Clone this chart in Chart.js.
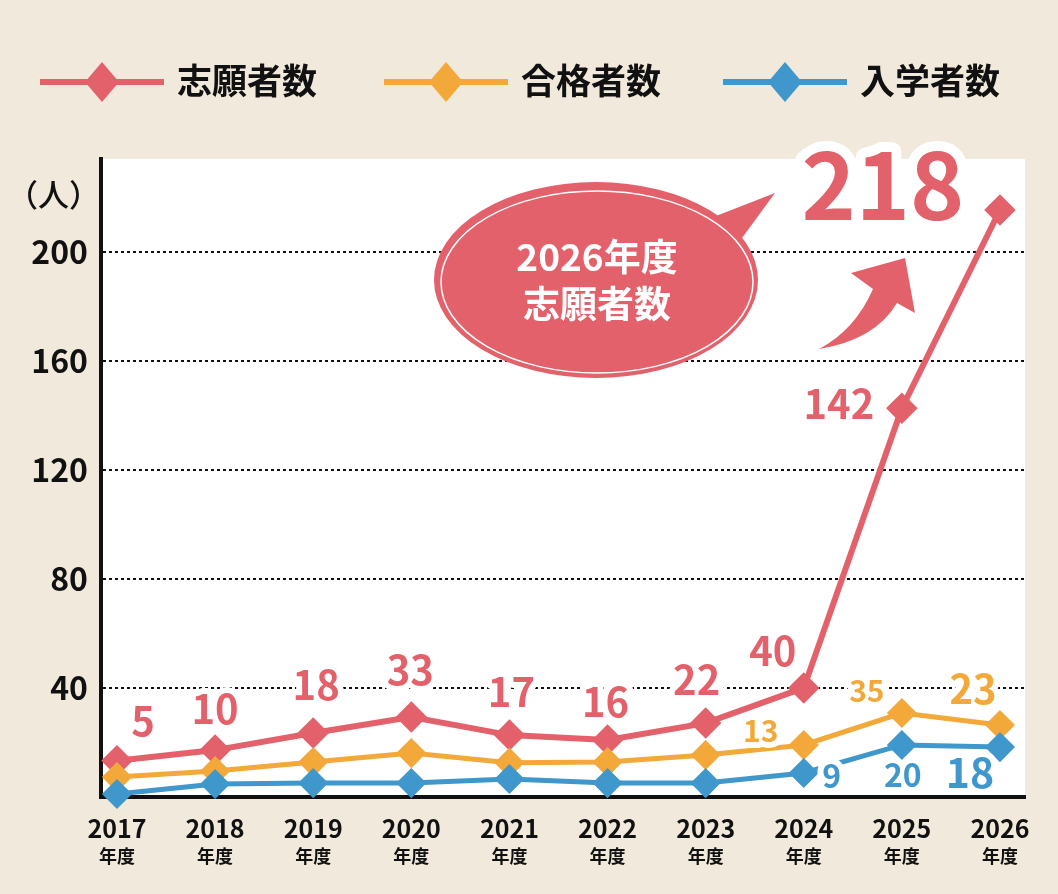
<!DOCTYPE html>
<html lang="ja">
<head>
<meta charset="utf-8">
<title>志願者数・合格者数・入学者数の推移</title>
<script src="https://cdn.jsdelivr.net/npm/chart.js@4.4.1/dist/chart.umd.min.js"></script>
<style>
  html, body { margin: 0; padding: 0; background: #f1e9db; }
  #wrap { position: relative; width: 1058px; height: 894px; }
</style>
</head>
<body>
<div id="wrap"><canvas id="chart"></canvas></div>
<script>
const years = [2017, 2018, 2019, 2020, 2021, 2022, 2023, 2024, 2025, 2026];
const seriesNames = ['志願者数', '合格者数', '入学者数'];

// figures printed beside the markers
const applicants = [5, 10, 18, 33, 17, 16, 22, 40, 142, 218];
const passed = [null, null, null, null, null, null, null, 13, 35, 23];
const enrolled = [null, null, null, null, null, null, null, 9, 20, 18];

// marker heights as they are drawn in the picture
const applicantsDrawn = [13.3, 17.2, 23.5, 29.3, 22.7, 20.9, 27.1, 40, 142.6, 215.3];
const passedDrawn = [7.3, 9.5, 12.8, 16.1, 12.6, 12.8, 15.4, 19.1, 30.8, 26.4];
const enrolledDrawn = [1.1, 4.8, 5.1, 5.1, 6.6, 5.1, 5.1, 8.8, 19.1, 18.3];

const yTicks = [40, 80, 120, 160, 200];
const unitLabel = '（人）';
const yearSuffix = '年度';
const calloutLines = ['2026年度', '志願者数'];

const RED = '#e3616a';
const ORANGE = '#f3a83a';
const BLUE = '#3f97cb';
const BEIGE = '#f1e9db';
const INK = '#111111';
const FONT = '"Noto Sans CJK JP", "Noto Sans", sans-serif';

const seriesColors = [RED, ORANGE, BLUE];
const seriesLabels = [applicants, passed, enrolled];

// label placement: [dx, dy, font size, halo] relative to the marker
const labelStyle = [
  [[26, -39, 40], [0, -41, 40], [3, -47, 40], [-1, -47, 40], [2, -43, 40],
   [-2, -37, 40], [-9, -43, 40], [-31, -36, 40], [-63, -4, 40], [-117, -23, 92, 20]],
  [null, null, null, null, null, null, null, [-43, -14, 30], [-35, -22, 30], [-27, -35, 40]],
  [null, null, null, null, null, null, null, [28, 3, 32], [1, 31, 32], [-30, 26, 41]]
];

function inkText(ctx, text, x, y, size, weight, color, align, halo) {
  ctx.font = `${weight} ${size}px ${FONT}`;
  ctx.textAlign = align;
  ctx.textBaseline = 'alphabetic';
  const by = y + size * 0.36;
  if (halo) {
    ctx.lineJoin = 'round';
    ctx.lineWidth = halo;
    ctx.strokeStyle = '#ffffff';
    ctx.strokeText(text, x, by);
  }
  ctx.fillStyle = color;
  ctx.fillText(text, x, by);
}

const toPoints = (levels) => years.map((yr, i) => ({ x: yr, y: levels[i] }));

const chartBackground = {
  id: 'chartBackground',
  beforeDraw(chart) {
    const { ctx, chartArea: a } = chart;
    ctx.save();
    ctx.fillStyle = BEIGE;
    ctx.fillRect(0, 0, chart.width, chart.height);
    ctx.fillStyle = '#ffffff';
    ctx.fillRect(a.left, a.top, a.right - a.left, a.bottom - a.top);
    ctx.restore();
  }
};

// speech bubble and sweeping arrow pointing at the 2026 figure
const callout = {
  id: 'callout',
  beforeDatasetsDraw(chart) {
    const { ctx } = chart;
    ctx.save();
    ctx.fillStyle = RED;
    ctx.beginPath();
    ctx.ellipse(596, 280, 162, 98, 0, 0, Math.PI * 2);
    ctx.fill();
    ctx.beginPath();
    ctx.moveTo(716, 216);
    ctx.lineTo(775, 193);
    ctx.lineTo(742, 238);
    ctx.closePath();
    ctx.fill();
    ctx.strokeStyle = '#ffffff';
    ctx.lineWidth = 1.5;
    ctx.beginPath();
    ctx.ellipse(597, 282, 156, 91, 0, 0, Math.PI * 2);
    ctx.stroke();
    inkText(ctx, calloutLines[0], 597, 258, 37, 'bold', '#ffffff', 'center');
    inkText(ctx, calloutLines[1], 597, 305, 37, 'bold', '#ffffff', 'center');

    ctx.fillStyle = RED;
    ctx.beginPath();
    ctx.moveTo(819, 349);
    ctx.quadraticCurveTo(875, 340, 897, 303);
    ctx.lineTo(915, 313);
    ctx.lineTo(905, 258);
    ctx.lineTo(851, 273);
    ctx.lineTo(873, 289);
    ctx.quadraticCurveTo(855, 330, 819, 349);
    ctx.closePath();
    ctx.fill();
    ctx.restore();
  }
};

const valueLabels = {
  id: 'valueLabels',
  afterDatasetsDraw(chart) {
    const { ctx } = chart;
    ctx.save();
    seriesLabels.forEach((values, di) => {
      const meta = chart.getDatasetMeta(di);
      values.forEach((v, i) => {
        if (v === null) return;
        const st = labelStyle[di][i];
        const pt = meta.data[i];
        inkText(ctx, String(v), pt.x + st[0], pt.y + st[1], st[2], 'bold', seriesColors[di], 'center', st[3] || 12);
      });
    });
    ctx.restore();
  }
};

const decorations = {
  id: 'decorations',
  afterDraw(chart) {
    const { ctx } = chart;
    const xScale = chart.scales.x;
    ctx.save();

    // legend: line with a diamond, then the series name
    [40, 384, 723].forEach((x0, i) => {
      const y = 82;
      ctx.strokeStyle = seriesColors[i];
      ctx.lineWidth = 6;
      ctx.beginPath();
      ctx.moveTo(x0, y);
      ctx.lineTo(x0 + 124, y);
      ctx.stroke();
      ctx.fillStyle = seriesColors[i];
      ctx.beginPath();
      ctx.moveTo(x0 + 62, y - 20);
      ctx.lineTo(x0 + 79, y);
      ctx.lineTo(x0 + 62, y + 20);
      ctx.lineTo(x0 + 45, y);
      ctx.closePath();
      ctx.fill();
      inkText(ctx, seriesNames[i], x0 + 137, y - 1, 35, 'bold', INK, 'left');
    });

    // unit label above the y axis
    ctx.font = `500 31px ${FONT}`;
    const m = ctx.measureText(unitLabel);
    inkText(ctx, unitLabel, 28 + m.actualBoundingBoxLeft, 195, 31, '500', INK, 'left');

    // second line of the x tick labels
    years.forEach((yr) => {
      inkText(ctx, yearSuffix, xScale.getPixelForValue(yr), 857, 18, 'bold', INK, 'center');
    });
    ctx.restore();
  }
};

new Chart(document.getElementById('chart'), {
  type: 'line',
  data: {
    datasets: [
      { label: seriesNames[0], data: toPoints(applicantsDrawn), borderColor: RED, backgroundColor: RED, borderWidth: 6, order: 2 },
      { label: seriesNames[1], data: toPoints(passedDrawn), borderColor: ORANGE, backgroundColor: ORANGE, borderWidth: 5, order: 1 },
      { label: seriesNames[2], data: toPoints(enrolledDrawn), borderColor: BLUE, backgroundColor: BLUE, borderWidth: 5, order: 0 }
    ]
  },
  options: {
    responsive: true,
    maintainAspectRatio: false,
    animation: false,
    events: [],
    layout: { padding: { top: 159, right: 33, bottom: 0, left: 0 } },
    elements: {
      line: { tension: 0 },
      point: { pointStyle: 'rectRot', radius: 11.5, borderWidth: 0, hoverRadius: 11.5 }
    },
    datasets: { line: { clip: false } },
    plugins: { legend: { display: false }, tooltip: { enabled: false } },
    scales: {
      x: {
        type: 'linear',
        min: 2016.837,
        max: 2026.255,
        afterBuildTicks: (s) => { s.ticks = years.map((v) => ({ value: v })); },
        afterFit: (s) => { s.height = 97; },
        grid: { display: false, drawTicks: false },
        border: { display: true, color: INK, width: 4 },
        ticks: {
          color: INK,
          font: { family: FONT, size: 25, weight: 'bold' },
          padding: 16,
          maxRotation: 0,
          autoSkip: false,
          callback: (v) => String(v)
        }
      },
      y: {
        min: 0,
        max: 234,
        afterBuildTicks: (s) => { s.ticks = yTicks.map((v) => ({ value: v })); },
        afterFit: (s) => { s.width = 101; },
        grid: { color: INK, lineWidth: 2, drawTicks: false },
        border: { display: true, color: INK, width: 4, dash: [3, 3] },
        ticks: {
          color: INK,
          font: { family: FONT, size: 32, weight: 'bold' },
          padding: 13
        }
      }
    }
  },
  plugins: [chartBackground, callout, valueLabels, decorations]
});
</script>
</body>
</html>
